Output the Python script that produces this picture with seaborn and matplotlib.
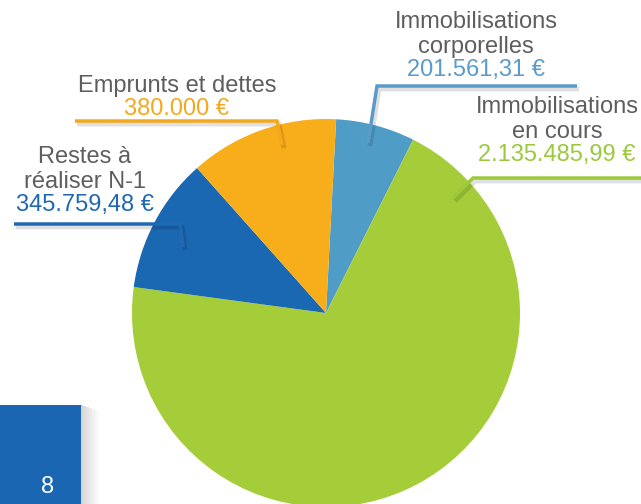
import matplotlib.pyplot as plt
import seaborn as sns
from matplotlib.patches import Rectangle

# data
categories = ["Immobilisations\ncorporelles", "Immobilisations\nen cours",
              "Restes à\nréaliser N-1", "Emprunts et dettes"]
values = [201561.31, 2135485.99, 345759.48, 380000.00]
value_labels = ["201.561,31 €", "2.135.485,99 €", "345.759,48 €", "380.000 €"]
slice_colors = ["#4f9cc7", "#a5cd39", "#1a67b2", "#f8ad1b"]
value_colors = ["#5b9bcb", "#9cc93b", "#1f68b4", "#f6a81c"]
page_number = "8"

# label layout in pixels: text centre x, first line y, underline x0/x1/y, leader tip
label_layout = [
    dict(cx=476, y0=22, ux=(577, 377), uy=86, tip=(368, 143)),
    dict(cx=557, y0=107, ux=(641, 473), uy=178, tip=(453, 198)),
    dict(cx=85, y0=157, ux=(14, 180), uy=224, tip=(183, 247)),
    dict(cx=177, y0=86, ux=(75, 277), uy=121, tip=(282, 145)),
]
line_step = 25

sns.set_theme(style="white")
plt.rcParams['font.family'] = ['Liberation Sans', 'DejaVu Sans']

W, H = 641, 504
fig = plt.figure(figsize=(W / 100, H / 100), dpi=100)
fig.patch.set_facecolor("white")

# pie
ax = fig.add_axes([132 / W, -3 / H, 388 / W, 388 / H])
ax.pie(values, colors=slice_colors, startangle=87, counterclock=False,
       radius=1, wedgeprops=dict(linewidth=0))
ax.set_xlim(-1, 1)
ax.set_ylim(-1, 1)
ax.set_aspect("equal")
ax.axis("off")

# overlay in pixel coordinates for labels and decorations
ov = fig.add_axes([0, 0, 1, 1])
ov.set_xlim(0, W)
ov.set_ylim(H, 0)
ov.axis("off")
ov.patch.set_visible(False)

for name, val, col, lay in zip(categories, value_labels, value_colors, label_layout):
    lines = name.split("\n")
    y = lay["y0"]
    for ln in lines:
        ov.text(lay["cx"], y, ln, ha="center", va="center", fontsize=17, color="#5e5e5e")
        y += line_step
    ov.text(lay["cx"], y - 2, val, ha="center", va="center", fontsize=17, color=col)
    xa, xb = lay["ux"]
    tx, ty = lay["tip"]
    # soft shadow under the leader line
    ov.plot([xa + 2, xb + 2, tx + 2], [lay["uy"] + 3, lay["uy"] + 3, ty + 3],
            color="#000000", alpha=0.12, lw=3.5, solid_capstyle="butt")
    ov.plot([xa, xb, tx], [lay["uy"], lay["uy"], ty], color=col, lw=2.5,
            solid_capstyle="butt", solid_joinstyle="miter")

# page number box with a right-side shadow
for i in range(12):
    ov.add_patch(Rectangle((81 + i * 1.5, 405 + i * 0.5), 1.5, 110,
                           color="#000000", alpha=0.16 * (1 - i / 12), lw=0))
ov.add_patch(Rectangle((0, 405), 81, 110, color="#1a66b2", lw=0))
ov.text(48, 487, page_number, ha="center", va="center", fontsize=17, color="white")

fig.savefig("out.png", dpi=100)
